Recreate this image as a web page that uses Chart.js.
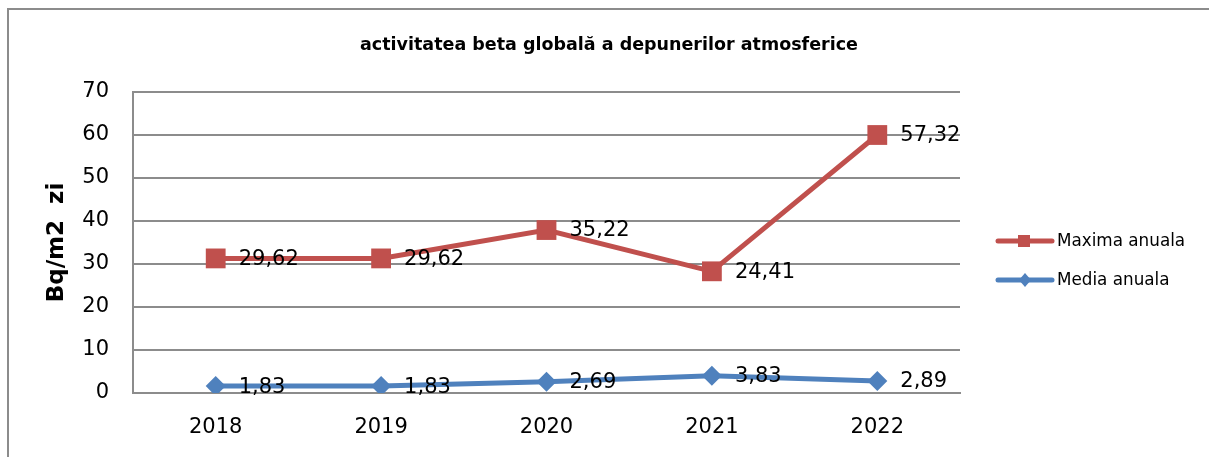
<!DOCTYPE html>
<html>
<head>
<meta charset="utf-8">
<script src="https://cdn.jsdelivr.net/npm/chart.js@4/dist/chart.umd.min.js"></script>
<style>
  body { margin: 0; background: #fff; overflow: hidden; }
  .wrap { position: relative; width: 1209px; height: 457px; overflow: hidden; }
  .frame { position: absolute; left: 7px; top: 8px; width: 1400px; height: 600px; border-left: 2px solid #8c8c8c; border-top: 2px solid #8c8c8c; }
  canvas { position: absolute; left: 0; top: 0; }
</style>
</head>
<body>
<div class="wrap">
  <div class="frame"></div>
  <canvas id="myChart" width="1209" height="457"></canvas>
</div>
<script>
// Data
const years = ["2018", "2019", "2020", "2021", "2022"];
const maximaValues = [31.3, 31.3, 37.9, 28.3, 60.0];
const maximaLabels = ["29,62", "29,62", "35,22", "24,41", "57,32"];
const mediaValues = [1.6, 1.6, 2.6, 4.0, 2.8];
const mediaLabels = ["1,83", "1,83", "2,69", "3,83", "2,89"];
const yTicks = [0, 10, 20, 30, 40, 50, 60, 70];

const chartTitle = "activitatea beta globală a depunerilor atmosferice";
const yTitle = "Bq/m2  zi";

const FONT = "'DejaVu Sans', sans-serif";
const RED = "#C0504D";
const BLUE = "#4F81BD";
const GRID = "#8c8c8c";

// Title, data labels and legend drawn on top of the chart
const extras = {
  id: "extras",
  afterDatasetsDraw(chart) {
    const ctx = chart.ctx;
    ctx.save();

    // title
    ctx.fillStyle = "#000";
    ctx.font = "bold 17.5px " + FONT;
    ctx.textAlign = "center";
    ctx.textBaseline = "middle";
    ctx.fillText(chartTitle, 609, 45);

    // data labels
    ctx.font = "21px " + FONT;
    ctx.textAlign = "left";
    chart.data.datasets.forEach((ds, i) => {
      const meta = chart.getDatasetMeta(i);
      meta.data.forEach((pt, j) => {
        ctx.fillText(ds.valueLabels[j], pt.x + 23, pt.y + 1);
      });
    });

    // legend
    const legendY = [241, 280];
    ctx.font = "16.8px " + FONT;
    chart.data.datasets.forEach((ds, i) => {
      const y = legendY[i];
      ctx.strokeStyle = ds.borderColor;
      ctx.lineWidth = 5;
      ctx.lineCap = "round";
      ctx.beginPath();
      ctx.moveTo(998, y);
      ctx.lineTo(1052, y);
      ctx.stroke();
      ctx.fillStyle = ds.borderColor;
      ctx.beginPath();
      if (ds.pointStyle === "rect") {
        ctx.rect(1018, y - 6, 12, 12);
      } else {
        ctx.moveTo(1025, y - 7);
        ctx.lineTo(1031, y);
        ctx.lineTo(1025, y + 7);
        ctx.lineTo(1019, y);
        ctx.closePath();
      }
      ctx.fill();
      ctx.fillStyle = "#000";
      ctx.fillText(ds.label, 1057, y + 1);
    });

    ctx.restore();
  }
};

const ctx = document.getElementById("myChart").getContext("2d");
const chart = new Chart(ctx, {
  type: "line",
  data: {
    labels: years,
    datasets: [
      {
        label: "Maxima anuala",
        data: maximaValues,
        valueLabels: maximaLabels,
        borderColor: RED,
        backgroundColor: RED,
        borderWidth: 5,
        pointStyle: "rect",
        pointRadius: 14,
        pointBorderWidth: 0,
        tension: 0,
      },
      {
        label: "Media anuala",
        data: mediaValues,
        valueLabels: mediaLabels,
        borderColor: BLUE,
        backgroundColor: BLUE,
        borderWidth: 5,
        pointStyle: "rectRot",
        pointRadius: 10,
        pointBorderWidth: 0,
        tension: 0,
      },
    ],
  },
  options: {
    responsive: false,
    animation: false,
    devicePixelRatio: 1,
    layout: { padding: { left: 0, right: 249, top: 92, bottom: 0 } },
    plugins: {
      legend: { display: false },
      title: { display: false },
      tooltip: { enabled: false },
    },
    scales: {
      x: {
        offset: true,
        grid: { display: false, drawTicks: false },
        border: { color: GRID, width: 2 },
        ticks: { color: "#000", font: { family: FONT, size: 21 }, padding: 22, maxRotation: 0 },
        afterFit: (scale) => { scale.height = 64; },
      },
      y: {
        min: 0,
        max: 70,
        afterBuildTicks: (scale) => { scale.ticks = yTicks.map((v) => ({ value: v })); },
        grid: { color: GRID, lineWidth: 2, drawTicks: false },
        border: { color: GRID, width: 2 },
        ticks: { color: "#000", font: { family: FONT, size: 21 }, padding: 24 },
        title: {
          display: true,
          text: yTitle,
          color: "#000",
          font: { family: FONT, size: 23, weight: "bold" },
          padding: { top: 43, bottom: 0 },
        },
        afterFit: (scale) => { scale.width = 133; },
      },
    },
  },
  plugins: [extras],
});
</script>
</body>
</html>
